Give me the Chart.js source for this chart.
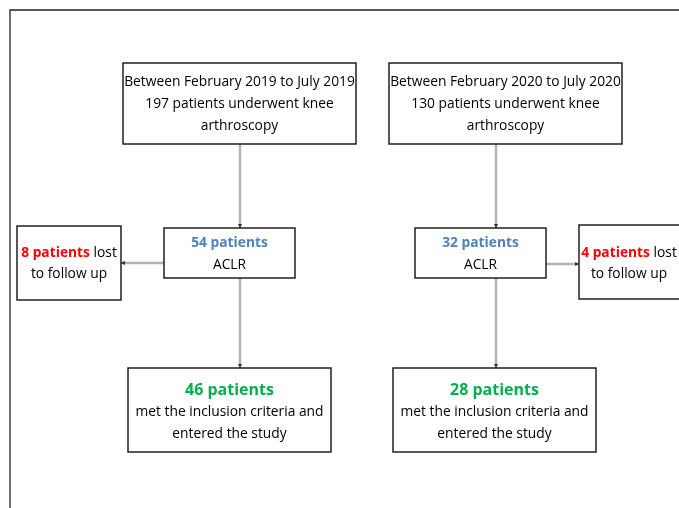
<!DOCTYPE html>
<html lang="en">

<head>
    <meta charset="UTF-8">
    <title>Flow chart</title>
    <script src="https://cdn.jsdelivr.net/npm/chart.js"></script>
    <style>
        body {
            margin: 0;
            background: #fff;
        }
    </style>
</head>

<body>
    <canvas id="canvas" width="679" height="508"></canvas>

    <script>
        // data
        const periods = ['Between February 2019 to July 2019', 'Between February 2020 to July 2020']
        const arthroscopy = [197, 130]
        const aclr = [54, 32]
        const lostFollowUp = [8, 4]
        const included = [46, 28]

        // layout in chart units (x 0..679, y 0..508)
        const layout = [{
            top: [123, 63, 356, 144],
            mid: [164, 228, 295, 278],
            side: [17, 226, 121, 300],
            bottom: [128, 368, 331, 452],
            lineX: 240,
            sideY: 263,
            sideDir: -1
        }, {
            top: [389, 63, 622, 144],
            mid: [415, 228, 546, 278],
            side: [579, 225, 700, 299],
            bottom: [393, 368, 596, 452],
            lineX: 496,
            sideY: 264,
            sideDir: 1
        }]

        const FONT = '"Open Sans", "Noto Sans", sans-serif'
        const SIZE = 13.8
        const BLUE = '#4f81bd'
        const RED = '#ff0000'
        const GREEN = '#00b050'
        const TXT = '#000'
        const LINE = '#b3b3b3'

        function richLine(ctx, segs, cx, cy, size) {
            let total = 0
            segs.forEach(s => {
                ctx.font = (s.bold ? 'bold ' : '') + size + 'px ' + FONT
                s.w = ctx.measureText(s.text).width
                total += s.w
            })
            let x = cx - total / 2
            segs.forEach(s => {
                ctx.font = (s.bold ? 'bold ' : '') + size + 'px ' + FONT
                ctx.fillStyle = s.color
                ctx.textAlign = 'left'
                ctx.textBaseline = 'middle'
                ctx.fillText(s.text, x, cy)
                x += s.w
            })
        }

        const flowPlugin = {
            id: 'flow',
            afterDraw(chart) {
                const ctx = chart.ctx
                const sx = chart.scales.x
                const sy = chart.scales.y
                const X = v => sx.getPixelForValue(v)
                const Y = v => sy.getPixelForValue(v)

                ctx.save()
                // outer frame
                ctx.strokeStyle = '#222'
                ctx.lineWidth = 1.3
                ctx.beginPath()
                ctx.moveTo(X(10), Y(520))
                ctx.lineTo(X(10), Y(10))
                ctx.lineTo(X(690), Y(10))
                ctx.stroke()

                function box(r) {
                    ctx.fillStyle = '#fff'
                    ctx.fillRect(X(r[0]), Y(r[1]), X(r[2]) - X(r[0]), Y(r[3]) - Y(r[1]))
                    ctx.strokeStyle = '#111'
                    ctx.lineWidth = 1.4
                    ctx.strokeRect(X(r[0]), Y(r[1]), X(r[2]) - X(r[0]), Y(r[3]) - Y(r[1]))
                }

                function connector(x1, y1, x2, y2) {
                    ctx.strokeStyle = LINE
                    ctx.lineWidth = 2.5
                    ctx.beginPath()
                    ctx.moveTo(X(x1), Y(y1))
                    ctx.lineTo(X(x2), Y(y2))
                    ctx.stroke()
                    // small arrow head
                    const a = Math.atan2(Y(y2) - Y(y1), X(x2) - X(x1))
                    ctx.fillStyle = '#333'
                    ctx.beginPath()
                    ctx.moveTo(X(x2), Y(y2))
                    ctx.lineTo(X(x2) - 4 * Math.cos(a) + 2 * Math.sin(a), Y(y2) - 4 * Math.sin(a) - 2 * Math.cos(a))
                    ctx.lineTo(X(x2) - 4 * Math.cos(a) - 2 * Math.sin(a), Y(y2) - 4 * Math.sin(a) + 2 * Math.cos(a))
                    ctx.closePath()
                    ctx.fill()
                }

                for (let i = 0; i < layout.length; i++) {
                    const L = layout[i]
                    connector(L.lineX, L.top[3], L.lineX, L.mid[1])
                    connector(L.lineX, L.mid[3], L.lineX, L.bottom[1])
                    if (L.sideDir < 0) connector(L.mid[0], L.sideY, L.side[2], L.sideY)
                    else connector(L.mid[2], L.sideY, L.side[0], L.sideY)

                    box(L.top)
                    box(L.mid)
                    box(L.side)
                    box(L.bottom)

                    const tcx = (L.top[0] + L.top[2]) / 2
                    richLine(ctx, [{ text: periods[i], color: TXT }], X(tcx), Y(82), SIZE)
                    richLine(ctx, [{ text: arthroscopy[i] + ' patients underwent knee', color: TXT }], X(tcx), Y(104), SIZE)
                    richLine(ctx, [{ text: 'arthroscopy', color: TXT }], X(tcx), Y(126), SIZE)

                    const mcx = (L.mid[0] + L.mid[2]) / 2
                    richLine(ctx, [{ text: aclr[i] + ' patients', color: BLUE, bold: true }], X(mcx), Y(243), SIZE)
                    richLine(ctx, [{ text: 'ACLR', color: TXT }], X(mcx), Y(265), SIZE)

                    const scx = L.sideDir < 0 ? (L.side[0] + L.side[2]) / 2 : 629
                    richLine(ctx, [{ text: lostFollowUp[i] + ' patients', color: RED, bold: true },
                        { text: ' lost', color: TXT }], X(scx), Y(253), SIZE)
                    richLine(ctx, [{ text: 'to follow up', color: TXT }], X(scx), Y(274), SIZE)

                    const bcx = (L.bottom[0] + L.bottom[2]) / 2
                    richLine(ctx, [{ text: included[i] + ' patients', color: GREEN, bold: true }], X(bcx), Y(390), 16)
                    richLine(ctx, [{ text: 'met the inclusion criteria and', color: TXT }], X(bcx), Y(412), SIZE)
                    richLine(ctx, [{ text: 'entered the study', color: TXT }], X(bcx), Y(434), SIZE)
                }
                ctx.restore()
            }
        }

        new Chart(document.getElementById('canvas'), {
            type: 'scatter',
            data: { datasets: [{ data: [], pointRadius: 0 }] },
            options: {
                responsive: false,
                animation: false,
                layout: { padding: 0 },
                plugins: { legend: { display: false }, tooltip: { enabled: false } },
                scales: {
                    x: { type: 'linear', min: 0, max: 679, display: false },
                    y: { type: 'linear', min: 0, max: 508, reverse: true, display: false }
                }
            },
            plugins: [flowPlugin]
        })
    </script>

</body>

</html>
